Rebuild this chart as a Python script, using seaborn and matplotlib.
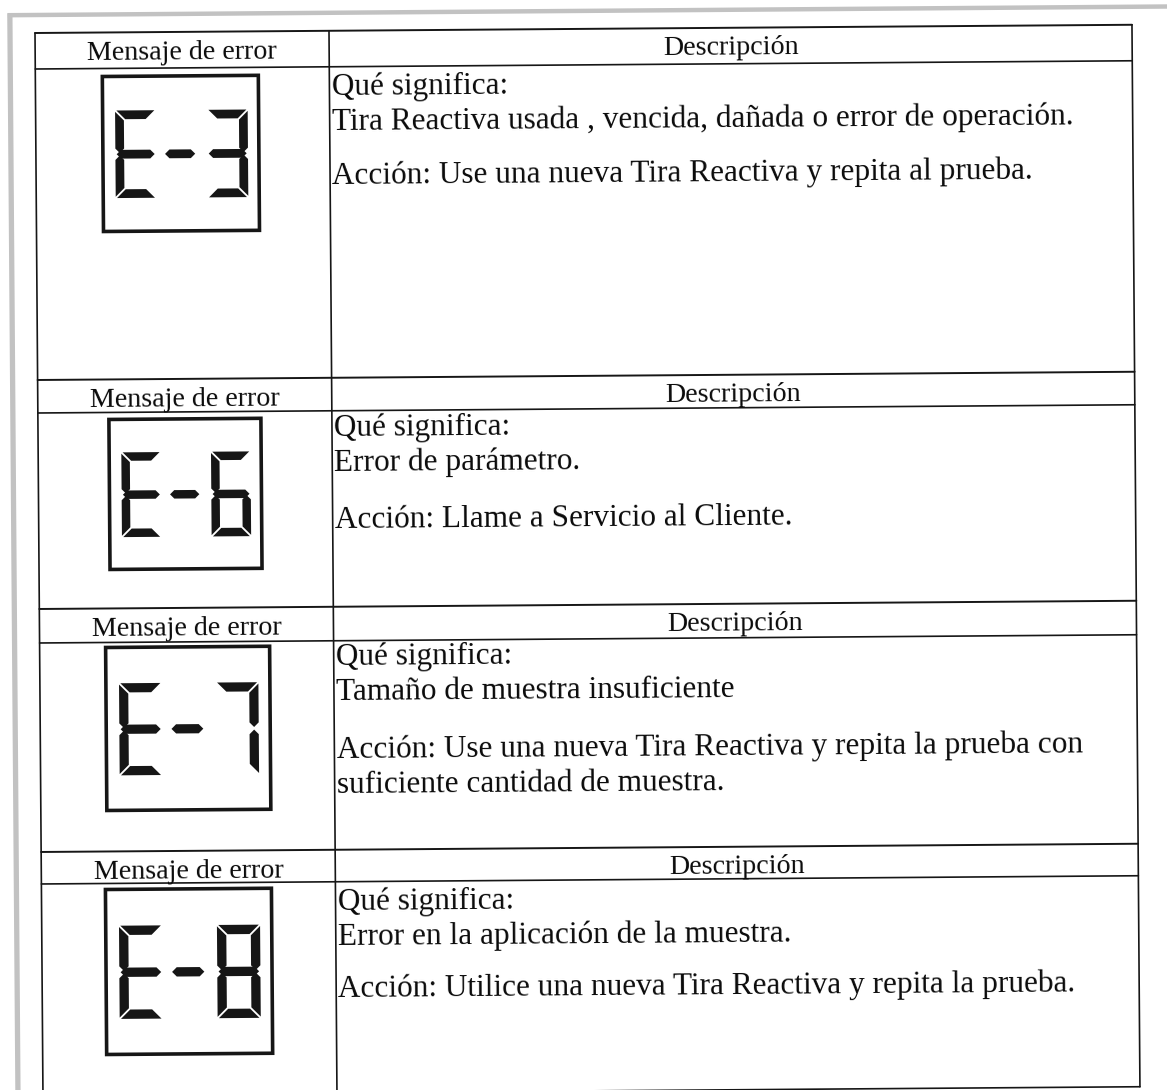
import numpy as np
import matplotlib
matplotlib.use("Agg")
import matplotlib.pyplot as plt
import seaborn as sns
from matplotlib.patches import Polygon, Rectangle
from matplotlib.transforms import Affine2D

# --- contenido de la tabla ---
error_codes = ["E-3", "E-6", "E-7", "E-8"]
header_left = "Mensaje de error"
header_right = "Descripción"
meaning_label = "Qué significa:"
meanings = [
    "Tira Reactiva usada , vencida, dañada o error de operación.",
    "Error de parámetro.",
    "Tamaño de muestra insuficiente",
    "Error en la aplicación de la muestra.",
]
actions = [
    ["Acción: Use una nueva Tira Reactiva y repita al prueba."],
    ["Acción: Llame a Servicio al Cliente."],
    ["Acción: Use una nueva Tira Reactiva y repita la prueba con",
     "suficiente cantidad de muestra."],
    ["Acción: Utilice una nueva Tira Reactiva y repita la prueba."],
]

# --- maquetación (px, página escaneada) ---
W, H = 1167, 1090
LEFT, MID, RIGHT, BOTTOM = 35, 329, 1132, 1095
header_tops = [33, 380, 609, 852]
header_bottoms = [69, 413, 643, 884]
lcd_boxes = [(102, 77, 258, 232), (106, 420, 258, 570),
             (101, 648, 265, 811), (99, 890, 265, 1055)]
meaning_offset = [28, 25, 24, 28]
action_offset = [117, 117, 117, 115]
LINE = 35
TILT = -0.43  # el escaneo está ligeramente girado

sns.set_theme(style="white")
plt.rcParams["font.family"] = ["Liberation Serif", "DejaVu Serif"]

fig = plt.figure(figsize=(W / 100, H / 100), dpi=100)
ax = fig.add_axes([0, 0, 1, 1])
ax.set_xlim(0, W)
ax.set_ylim(H, 0)
ax.axis("off")
tr = Affine2D().rotate_deg_around(LEFT, LEFT - 2, TILT) + ax.transData

ink = "#161616"

# borde gris del escaneo
ax.plot([8, W + 20], [15, 15], color="#c2c2c2", lw=3.2, transform=tr, solid_capstyle="butt")
ax.plot([10, 10], [13, H + 20], color="#c2c2c2", lw=3.8, transform=tr, solid_capstyle="butt")

# líneas de la tabla
for top, bot in zip(header_tops, header_bottoms):
    ax.plot([LEFT, RIGHT], [top, top], color=ink, lw=1.4, transform=tr)
    ax.plot([LEFT, RIGHT], [bot, bot], color=ink, lw=1.2, transform=tr)
ax.plot([LEFT, RIGHT], [BOTTOM, BOTTOM], color=ink, lw=1.2, transform=tr)
for x in (LEFT, MID, RIGHT):
    ax.plot([x, x], [header_tops[0], BOTTOM], color=ink, lw=1.2, transform=tr)


def seg_polys(x0, y0, w, h, t, g=1.3):
    ym = y0 + h / 2
    x1, y1 = x0 + w, y0 + h
    return {
        "a": [(x0 + g, y0), (x1 - g, y0), (x1 - t - g, y0 + t), (x0 + t + g, y0 + t)],
        "d": [(x0 + g, y1), (x1 - g, y1), (x1 - t - g, y1 - t), (x0 + t + g, y1 - t)],
        "g": [(x0 + g, ym), (x0 + t / 2 + g, ym - t / 2), (x1 - t / 2 - g, ym - t / 2),
              (x1 - g, ym), (x1 - t / 2 - g, ym + t / 2), (x0 + t / 2 + g, ym + t / 2)],
        "f": [(x0, y0 + g), (x0 + t, y0 + t + g), (x0 + t, ym - t / 2 - g),
              (x0 + t / 2, ym - g), (x0, ym - t / 2 - g)],
        "e": [(x0, y1 - g), (x0 + t, y1 - t - g), (x0 + t, ym + t / 2 + g),
              (x0 + t / 2, ym + g), (x0, ym + t / 2 + g)],
        "b": [(x1, y0 + g), (x1 - t, y0 + t + g), (x1 - t, ym - t / 2 - g),
              (x1 - t / 2, ym - g), (x1, ym - t / 2 - g)],
        "c": [(x1, y1 - g), (x1 - t, y1 - t - g), (x1 - t, ym + t / 2 + g),
              (x1 - t / 2, ym + g), (x1, ym + t / 2 + g)],
    }


SEGMENTS = {"E": "adefg", "3": "abcdg", "6": "acdefg", "7": "abc", "8": "abcdefg", "-": "g"}


def draw_char(ch, x0, y0, w, h, t):
    polys = seg_polys(x0, y0, w, h, t)
    for s in SEGMENTS[ch]:
        ax.add_patch(Polygon(polys[s], closed=True, facecolor=ink, edgecolor="none", transform=tr))


# pantallas LCD
for code, (bx0, by0, bx1, by1) in zip(error_codes, lcd_boxes):
    bw, bh = bx1 - bx0, by1 - by0
    ax.add_patch(Rectangle((bx0, by0), bw, bh, fill=False, edgecolor=ink, lw=2.6, transform=tr))
    top, dh = by0 + 0.22 * bh, 0.565 * bh
    t = 0.1 * dh
    draw_char(code[0], bx0 + 0.08 * bw, top, 0.26 * bw, dh, t)
    draw_char("-", bx0 + 0.39 * bw, top, 0.21 * bw, dh, t)
    draw_char(code[2], bx0 + 0.67 * bw, top, 0.26 * bw, dh, t)

# textos
txt = dict(transform=tr, rotation=-TILT, rotation_mode="anchor", color="#0a0a0a")
for i, (top, bot) in enumerate(zip(header_tops, header_bottoms)):
    ax.text((LEFT + MID) / 2, top + 27, header_left, ha="center", va="baseline", fontsize=20.2, **txt)
    ax.text((MID + RIGHT) / 2, top + 27, header_right, ha="center", va="baseline", fontsize=20.2, **txt)
    y = bot + meaning_offset[i]
    ax.text(MID + 2, y, meaning_label, ha="left", va="baseline", fontsize=22.5, **txt)
    ax.text(MID + 2, y + LINE, meanings[i], ha="left", va="baseline", fontsize=22.5, **txt)
    y = bot + action_offset[i]
    for line in actions[i]:
        ax.text(MID + 2, y, line, ha="left", va="baseline", fontsize=22.5, **txt)
        y += LINE

fig.savefig("out.png", dpi=100)
plt.close(fig)
